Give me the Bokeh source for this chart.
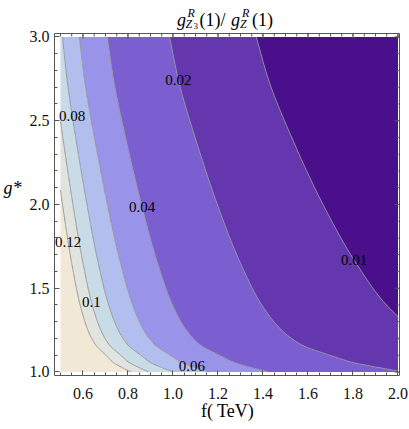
import numpy as np
from bokeh.plotting import figure
from bokeh.models import Range1d, FixedTicker, ColumnDataSource, NumeralTickFormatter
from bokeh.core.properties import value
from bokeh.embed import file_html
from bokeh.resources import INLINE

# ---------------- data ----------------
levels = [0.01, 0.02, 0.04, 0.06, 0.08, 0.1, 0.12]
level_text = ["0.01", "0.02", "0.04", "0.06", "0.08", "0.1", "0.12"]
# f (TeV) where the 0.02 contour crosses each g*
gstar_nodes = [1.00, 1.03, 1.06, 1.09, 1.17, 1.35, 1.65, 1.99, 2.35, 2.74, 3.00]
f_at_002 = [2.03, 1.90, 1.79, 1.72, 1.56, 1.42, 1.30, 1.20, 1.11, 1.025, 0.985]
# fall-off exponent in f along g*
slope_g = [1.0, 1.155, 1.6, 2.3, 3.0]
slope_p = [1.96, 2.05, 2.08, 2.1, 2.1]
# g* at which each contour label sits
label_g = [1.667, 2.745, 1.985, 1.033, 2.53, 1.42, 1.775]
x_ticks = [0.6, 0.8, 1.0, 1.2, 1.4, 1.6, 1.8, 2.0]
y_ticks = [1.0, 1.5, 2.0, 2.5, 3.0]
x_title = "f( TeV)"
y_title = "g*"
# title  g_{Z3}^R(1)/ g_Z^R(1), split into its pieces
title_pieces = ["g", "R", "Z", "3", "(1)/", "g", "R", "Z", "(1)"]
title_italic = [True, True, True, False, False, True, True, True, False]

band_colors = ["#4a0f8a", "#6437ae", "#7b5fd1", "#9a93ea", "#b2bfee",
               "#c9dbe6", "#e0e3de", "#f1e8d6"]


def pchip(xk, yk, x):
    xk = np.asarray(xk, float); yk = np.asarray(yk, float)
    h = np.diff(xk); d = np.diff(yk) / h
    n = len(xk)
    m = np.zeros(n)
    for k in range(1, n - 1):
        if d[k - 1] * d[k] > 0:
            w1 = 2 * h[k] + h[k - 1]
            w2 = h[k] + 2 * h[k - 1]
            m[k] = (w1 + w2) / (w1 / d[k - 1] + w2 / d[k])
    m[0] = d[0]; m[-1] = d[-1]
    x = np.asarray(x, float)
    i = np.clip(np.searchsorted(xk, x) - 1, 0, n - 2)
    t = (x - xk[i]) / h[i]
    h00 = 2 * t**3 - 3 * t**2 + 1
    h10 = t**3 - 2 * t**2 + t
    h01 = -2 * t**3 + 3 * t**2
    h11 = t**3 - t**2
    return h00 * yk[i] + h10 * h[i] * m[i] + h01 * yk[i + 1] + h11 * h[i] * m[i + 1]


def ratio(f, g):
    f02 = pchip(gstar_nodes, f_at_002, g)
    pw = pchip(slope_g, slope_p, g)
    return 0.02 * (f02 / f) ** pw


fs = np.linspace(0.5, 2.0, 301)
gs = np.linspace(1.0, 3.0, 301)
F, G = np.meshgrid(fs, gs)
Z = ratio(F, G)

# ---------------- geometry (pixels) ----------------
W, H = 409, 429
BL, BT, BW, BH = 53, 33, 345, 342          # boxed plot area
x0, x1 = 0.4735, 2.0067                     # data extent of the box
y0, y1 = 0.979, 3.0205
sx = BW / (x1 - x0)
sy = BH / (y1 - y0)
FW = BW + 1                                 # frame is one pixel wider, reaching the page top
FH = BH + BT
xe = x1 + 1.0 / sx
ye = y1 + BT / sy

p = figure(x_range=Range1d(x0, xe), y_range=Range1d(y0, ye), title=None,
           frame_width=FW, frame_height=FH, output_backend="svg",
           toolbar_location=None, min_border_left=BL, min_border_right=W - BL - FW,
           min_border_top=0, min_border_bottom=H - FH)
p.outline_line_color = None
p.grid.visible = False
p.background_fill_color = "white"

p.contour(x=fs, y=gs, z=Z, levels=[0.0] + levels + [10.0],
          fill_color=band_colors, line_color=None)
p.contour(x=fs, y=gs, z=Z, levels=levels, fill_color=None,
          line_color="#8f8f8f", line_width=0.9)

# contour labels placed on their contour lines
lab_f = []
for lv, gv in zip(levels, label_g):
    f02 = pchip(gstar_nodes, f_at_002, gv)
    pw = pchip(slope_g, slope_p, gv)
    lab_f.append(float(f02 * (0.02 / lv) ** (1.0 / pw)))
src = ColumnDataSource(dict(x=lab_f, y=label_g, t=level_text))
p.text(x="x", y="y", text="t", source=src, text_font=value("Liberation Serif"),
       text_font_size="15px", text_align="center", text_baseline="middle",
       text_color="black")

# axes (left / bottom) with inward ticks
xminor = list(np.round(np.arange(0.5, 2.0001, 0.05), 3))
yminor = list(np.round(np.arange(1.0, 3.0001, 0.1), 3))
FRAME = "#555555"


def style(ax, ticks, minor):
    ax.ticker = FixedTicker(ticks=ticks, minor_ticks=minor)
    ax.major_tick_in = 5
    ax.major_tick_out = 0
    ax.minor_tick_in = 3
    ax.minor_tick_out = 0
    ax.axis_line_color = FRAME
    ax.major_tick_line_color = FRAME
    ax.minor_tick_line_color = FRAME
    ax.formatter = NumeralTickFormatter(format="0.0")
    ax.major_label_text_font = "Liberation Serif"
    ax.major_label_text_font_size = "16px"
    ax.major_label_text_color = "#111111"
    ax.axis_label_text_font = "Liberation Serif"
    ax.axis_label_text_font_size = "18px"
    ax.axis_label_text_color = "black"


xa = p.xaxis[0]
ya = p.yaxis[0]
style(xa, x_ticks, xminor)
style(ya, y_ticks, yminor)
xa.bounds = (x0, x1)
ya.bounds = (y0, y1)
xa.major_label_standoff = 12
ya.major_label_standoff = 5
xa.axis_label = x_title
xa.axis_label_text_font_style = "normal"
xa.axis_label_standoff = -1
ya.axis_label = y_title
ya.axis_label_text_font_style = "italic"
ya.axis_label_orientation = "horizontal"
ya.axis_label_standoff = 5

# top and right sides of the box, with inward ticks
p.segment(x0=[x0, x1], y0=[y1, y0], x1=[x1, x1], y1=[y1, y1],
          line_color=FRAME, line_width=1)
p.segment(x0=x_ticks, y0=[y1] * len(x_ticks), x1=x_ticks, y1=[y1 - 5 / sy] * len(x_ticks),
          line_color=FRAME, line_width=1)
p.segment(x0=xminor, y0=[y1] * len(xminor), x1=xminor, y1=[y1 - 3 / sy] * len(xminor),
          line_color=FRAME, line_width=1)
p.segment(x0=[x1] * len(y_ticks), y0=y_ticks, x1=[x1 - 5 / sx] * len(y_ticks), y1=y_ticks,
          line_color=FRAME, line_width=1)
p.segment(x0=[x1] * len(yminor), y0=yminor, x1=[x1 - 3 / sx] * len(yminor), y1=yminor,
          line_color=FRAME, line_width=1)

# title pieces: pixel layout (left edge, baseline from page top, size) -> data space
tx = [175.5, 186, 184, 192, 198, 229.5, 240.5, 238.5, 250.5]
ty = [19.5, 12, 23.5, 25.5, 19.5, 19.5, 12, 23.5, 19.5]
tsz = ["18px", "12px", "12px", "9px", "18px", "18px", "12px", "12px", "18px"]
dx = [x0 + (v - BL) / sx for v in tx]
dy = [ye - v / sy for v in ty]
for flag, style_name in ((True, "italic"), (False, "normal")):
    sel = [k for k, i in enumerate(title_italic) if i == flag]
    s = ColumnDataSource(dict(x=[dx[k] for k in sel], y=[dy[k] for k in sel],
                              s=[tsz[k] for k in sel], t=[title_pieces[k] for k in sel]))
    p.text(x="x", y="y", text="t", text_font_size="s", source=s,
           text_font=value("Liberation Serif"), text_font_style=style_name,
           text_align="left", text_baseline="alphabetic", text_color="black")

open("out.html", "w").write(file_html(p, INLINE))
